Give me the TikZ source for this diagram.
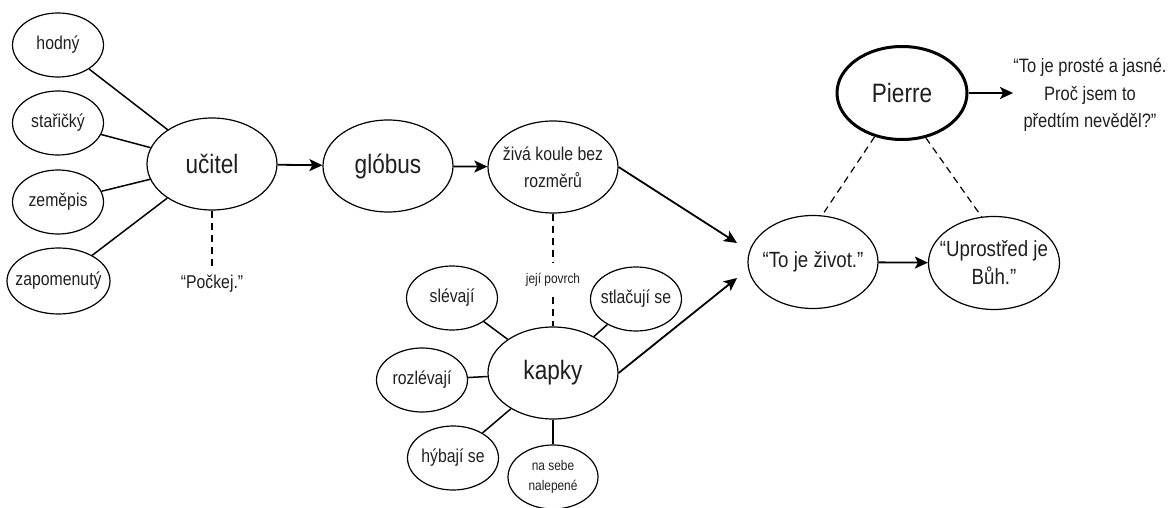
\documentclass[tikz,border=0pt]{standalone}
\usepackage{fontspec}
\setmainfont{Liberation Sans}[FakeStretch=0.85]
\usetikzlibrary{shapes.geometric,arrows.meta}
\begin{document}
\begin{tikzpicture}[x=0.5pt,y=-0.5pt,
  bigf/.style={font=\fontsize{13.3}{15}\selectfont},
  midf/.style={font=\fontsize{11}{14}\selectfont},
  smf/.style={font=\fontsize{9.3}{13.5}\selectfont},
  qf/.style={font=\fontsize{9.7}{13.6}\selectfont},
  tinyf/.style={font=\fontsize{7}{9.8}\selectfont},
  bub/.style={ellipse, draw, line width=0.6pt, inner sep=0pt},
  sm/.style={bub, minimum width=45.5pt, minimum height=32pt},
  big/.style={bub, minimum width=65pt, minimum height=46pt},
  txt/.style={inner sep=0pt, align=center, text=black!88},
  link/.style={line width=0.75pt},
  dsh/.style={line width=0.6pt, dash pattern=on 3.5pt off 2.5pt},
  arr/.style={line width=0.9pt, -{Stealth[length=6.5pt,width=6pt,inset=1.5pt]}},
]
\useasboundingbox (0,0) rectangle (1174,508);

% left cluster
\node[sm, label={[txt,smf]center:hodný}] (hodny) at (58,45) {};
\node[sm, label={[txt,smf]center:stařičký}] (staricky) at (58,123) {};
\node[sm, label={[txt,smf]center:zeměpis}] (zemepis) at (58,202) {};
\node[sm, minimum width=51.5pt, minimum height=33pt, label={[txt,smf]center:zapomenutý}] (zapomenuty) at (58.5,281) {};
\node[big, label={[txt,bigf]center:učitel}] (ucitel) at (212,164) {};
\node[txt, smf, inner sep=4pt] (pockej) at (212,284) {“Počkej.”};

\draw[link] (hodny) -- (ucitel);
\draw[link] (staricky) -- (ucitel);
\draw[link] (zemepis) -- (ucitel);
\draw[link] (zapomenuty) -- (ucitel);
\draw[dsh] (ucitel) -- (pockej);

% middle
\node[big, label={[txt,bigf]center:glóbus}] (globus) at (388,166) {};
\node[big, label={[txt,smf]center:živá koule bez\\rozměrů}] (ziva) at (553,167) {};
\node[txt, tinyf, inner sep=5pt] (povrch) at (553,280) {její povrch};
\node[big, label={[txt,bigf]center:kapky}] (kapky) at (553,373) {};
\node[sm, label={[txt,smf]center:slévají}] (slevaji) at (452,298) {};
\node[sm, label={[txt,smf]center:stlačují se}] (stlacuji) at (636,299) {};
\node[sm, label={[txt,smf]center:rozlévají}] (rozlevaji) at (422,380) {};
\node[sm, label={[txt,smf]center:hýbají se}] (hybaji) at (453,458) {};
\node[sm, minimum width=45pt, label={[txt,tinyf]center:na sebe\\nalepené}] (nasebe) at (553,477) {};

\draw[arr] (ucitel) -- (globus);
\draw[arr] (globus) -- (ziva);
\draw[dsh] (ziva) -- (povrch);
\draw[dsh] (povrch) -- (kapky);
\draw[link] (slevaji) -- (kapky);
\draw[link] (stlacuji) -- (kapky);
\draw[link] (rozlevaji) -- (kapky);
\draw[link] (hybaji) -- (kapky);
\draw[link] (nasebe) -- (kapky);

% right
\node[big, minimum height=46.5pt, label={[txt,midf]center:“To je život.”}] (zivot) at (813,262) {};
\node[big, minimum width=65.5pt, minimum height=46.5pt, label={[txt,midf]center:“Uprostřed je\\Bůh.”}] (buh) at (994,263) {};
\node[big, minimum height=46.5pt, line width=1.5pt, label={[txt,bigf]center:Pierre}] (pierre) at (902,93) {};
\node[txt, qf] (quote) at (1090,95) {“To je prosté a jasné.\\Proč jsem to\\předtím nevěděl?”};

\coordinate (t1) at (737,243);
\coordinate (t2) at (737,278);
\draw[arr] (ziva.east) -- (t1);
\draw[arr] (kapky.east) -- (t2);
\draw[arr] (zivot) -- (buh);
\draw[arr] (pierre.east) -- (pierre.east -| quote.west);
\draw[dsh] (pierre.238) -- (zivot.79);
\draw[dsh] (pierre.298) -- (buh.105);
\end{tikzpicture}
\end{document}
